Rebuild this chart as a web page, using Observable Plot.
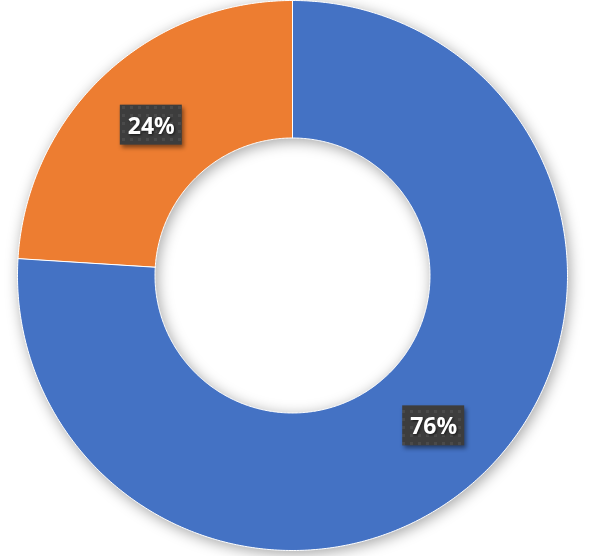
<!DOCTYPE html>
<html>
<head>
<meta charset="utf-8">
<script src="https://cdn.jsdelivr.net/npm/d3@7"></script>
<script src="https://cdn.jsdelivr.net/npm/@observablehq/plot@0.6"></script>
<style>
  html, body { margin: 0; padding: 0; background: #fff; }
  #chart svg { display: block; }
  #chart g[aria-label="line"] { filter: drop-shadow(2px 3px 7px rgba(0,0,0,0.35)); }
  #chart g[aria-label="rect"] { filter: drop-shadow(2px 3px 2px rgba(0,0,0,0.45)); }
  #chart g[aria-label="text"] { filter: drop-shadow(1px 1px 1px rgba(0,0,0,0.6)); }
</style>
</head>
<body>
<div id="chart"></div>
<script>
const categories = ["A", "B"];
const values = [76, 24];
const labels = ["76%", "24%"];
const colors = ["#4472C4", "#ED7D31"];

const innerRatio = 0.5;
const pie = d3.pie().sort(null).value(d => d.value);
const slices = pie(categories.map((c, i) => ({ cat: c, value: values[i], label: labels[i], color: colors[i] })));

// polygon points for each donut slice (angle 0 at 12 o'clock, clockwise)
const pts = [];
for (const s of slices) {
  const n = Math.max(2, Math.ceil((s.endAngle - s.startAngle) / 0.01));
  for (let k = 0; k <= n; k++) {
    const a = s.startAngle + (s.endAngle - s.startAngle) * k / n;
    pts.push({ cat: s.data.cat, color: s.data.color, x: Math.sin(a), y: Math.cos(a) });
  }
  for (let k = n; k >= 0; k--) {
    const a = s.startAngle + (s.endAngle - s.startAngle) * k / n;
    pts.push({ cat: s.data.cat, color: s.data.color, x: innerRatio * Math.sin(a), y: innerRatio * Math.cos(a) });
  }
}
const labelPts = slices.map(s => {
  const a = (s.startAngle + s.endAngle) / 2;
  const r = (1 + innerRatio) / 2;
  return { label: s.data.label, x: r * Math.sin(a), y: r * Math.cos(a) };
});

const chart = Plot.plot({
  width: 607,
  height: 556,
  marginLeft: 17,
  marginRight: 40,
  marginTop: 0,
  marginBottom: 6,
  x: { domain: [-1, 1], axis: null },
  y: { domain: [-1, 1], axis: null },
  marks: [
    Plot.line(pts, { x: "x", y: "y", z: "cat", fill: d => d.color, stroke: "#ffffff", strokeWidth: 1, curve: "linear-closed" }),
    Plot.rect(labelPts, { x1: "x", x2: "x", y1: "y", y2: "y", insetLeft: -31, insetRight: -31, insetTop: -20, insetBottom: -20, fill: "url(#dotpat)" }),
    Plot.text(labelPts, { x: "x", y: "y", text: "label", fill: "#ffffff", fontSize: 23, fontWeight: "bold", fontFamily: "'Open Sans', 'DejaVu Sans', sans-serif", dy: 1 })
  ]
});

// dotted dark texture pattern for label boxes
const ns = "http://www.w3.org/2000/svg";
const defs = document.createElementNS(ns, "defs");
const pat = document.createElementNS(ns, "pattern");
pat.setAttribute("id", "dotpat");
pat.setAttribute("width", "8");
pat.setAttribute("height", "8");
pat.setAttribute("patternUnits", "userSpaceOnUse");
const bg = document.createElementNS(ns, "rect");
bg.setAttribute("width", "8"); bg.setAttribute("height", "8"); bg.setAttribute("fill", "#3d3d3d");
const dot = document.createElementNS(ns, "rect");
dot.setAttribute("x", "2"); dot.setAttribute("y", "2"); dot.setAttribute("width", "3"); dot.setAttribute("height", "3"); dot.setAttribute("fill", "#4a4a4a");
pat.appendChild(bg); pat.appendChild(dot); defs.appendChild(pat);
chart.insertBefore(defs, chart.firstChild);

document.getElementById("chart").appendChild(chart);
</script>
</body>
</html>
